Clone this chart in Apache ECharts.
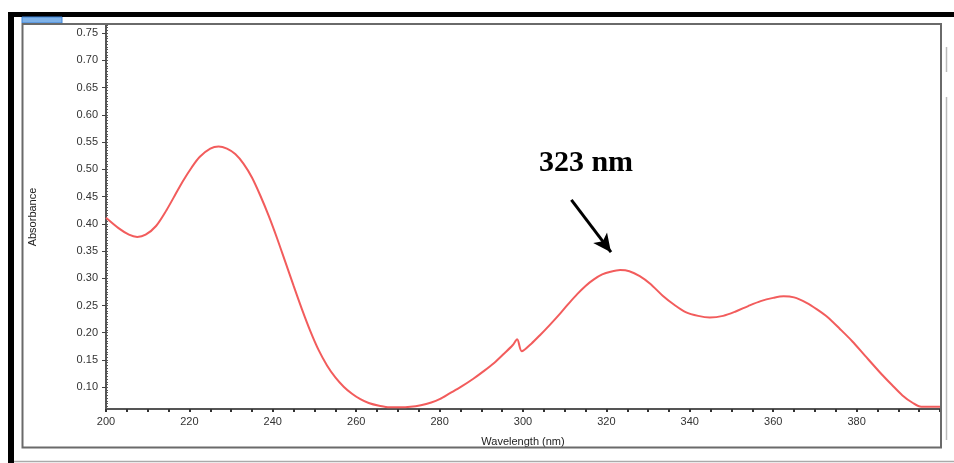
<!DOCTYPE html>
<html>
<head>
<meta charset="utf-8">
<script src="https://cdn.jsdelivr.net/npm/echarts@6/dist/echarts.min.js"></script>
<style>
html,body{margin:0;padding:0;background:#fff;}
#chart{width:954px;height:463px;}
</style>
</head>
<body>
<div id="chart"></div>
<script>
// ---- data ----
const wavelength = [200,203,205.5,207.5,209.5,212,214.5,216.5,218.5,220.5,222.5,225,227,229,231,233,235,237,239,241,243,245,247,249,251,253,255,257,259,261,263,265.5,268,270.5,273,275.5,278,280,282.5,285,288,290.5,293,295.5,297.5,298.6,299.7,302,304,306.5,309,311,313,315,317,319,321,323.3,325.5,328,330.5,333.5,336.5,339,342,344.8,348,351,354,357,360,362.5,365,368,370.5,373,376,379,382,385.5,388.5,391,393.5,395.5,400];
const absorbance = [0.411,0.392,0.380,0.376,0.380,0.396,0.425,0.452,0.479,0.503,0.523,0.538,0.542,0.538,0.528,0.510,0.485,0.452,0.415,0.374,0.330,0.286,0.243,0.203,0.168,0.140,0.118,0.101,0.088,0.078,0.071,0.066,0.063,0.063,0.064,0.067,0.072,0.078,0.089,0.100,0.115,0.129,0.144,0.162,0.177,0.188,0.166,0.180,0.195,0.215,0.236,0.254,0.271,0.286,0.298,0.307,0.312,0.315,0.313,0.304,0.290,0.268,0.250,0.238,0.231,0.228,0.231,0.239,0.249,0.258,0.264,0.267,0.265,0.255,0.243,0.229,0.207,0.184,0.158,0.128,0.104,0.085,0.071,0.064,0.064];
const yTickLabels = [0.10,0.15,0.20,0.25,0.30,0.35,0.40,0.45,0.50,0.55,0.60,0.65,0.70,0.75];
const xTickLabels = [200,220,240,260,280,300,320,340,360,380];
const arrowStart = [311.6, 0.444];
const arrowEnd = [321.1, 0.348];
const peakLabelPos = [315.1, 0.512];
const peakLabel = '323 nm';
const yMin = 0.06, yMax = 0.765, xMin = 200, xMax = 400;

const minorY = [];
for (let k = 13; k <= 153; k++) { minorY.push(+(k * 0.005).toFixed(3)); }

const chart = echarts.init(document.getElementById('chart'), null, {renderer:'canvas'});
const labelFont = {fontFamily:'Liberation Sans, Arial, sans-serif', fontSize:11, color:'#333'};
chart.setOption({
  animation:false,
  backgroundColor:'#fff',
  grid:{left:106, right:14, top:25, bottom:54, containLabel:false},
  xAxis:{
    type:'value', min:xMin, max:xMax, interval:20,
    name:'Wavelength (nm)', nameLocation:'middle', nameGap:27,
    nameTextStyle:Object.assign({}, labelFont, {fontSize:11, color:'#222'}),
    axisLine:{show:true, lineStyle:{color:'#555', width:2}},
    axisTick:{show:true, length:3, lineStyle:{color:'#333', width:2}},
    minorTick:{show:true, splitNumber:4, length:3, lineStyle:{color:'#333', width:2}},
    splitLine:{show:false},
    axisLabel:Object.assign({}, labelFont, {margin:7, customValues:xTickLabels, formatter:v=>String(v)})
  },
  yAxis:[{
    type:'value', min:yMin, max:yMax,
    name:'Absorbance', nameLocation:'middle', nameGap:68, nameRotate:90,
    nameTextStyle:Object.assign({}, labelFont, {fontSize:11, color:'#222'}),
    axisLine:{show:true, lineStyle:{color:'#555', width:2}},
    axisTick:{show:true, length:4, customValues:yTickLabels, lineStyle:{color:'#444', width:1}},
    splitLine:{show:false},
    axisLabel:Object.assign({}, labelFont, {margin:8, customValues:yTickLabels, formatter:v=>v.toFixed(2)})
  },{
    type:'value', min:yMin, max:yMax, position:'left',
    axisLine:{show:false},
    axisTick:{show:true, inside:true, length:2, customValues:minorY, lineStyle:{color:'#555', width:1}},
    axisLabel:{show:false}, splitLine:{show:false}
  }],
  graphic:[
    {type:'rect', shape:{x:8,y:12,width:946,height:5}, style:{fill:'#000'}, z:100},
    {type:'rect', shape:{x:8,y:12,width:6,height:451}, style:{fill:'#000'}, z:100},
    {type:'rect', shape:{x:22,y:17,width:40,height:6}, style:{fill:'#7fb2e8', stroke:'#3f83d6', lineWidth:1}, z:100},
    {type:'rect', shape:{x:22.5,y:24,width:918.5,height:423.5}, style:{fill:null, stroke:'#6a6a6a', lineWidth:2}, z:100},
    {type:'line', shape:{x1:14,y1:461.5,x2:954,y2:461.5}, style:{stroke:'#aaa', lineWidth:1.5}, z:100},
    {type:'line', shape:{x1:946.5,y1:47,x2:946.5,y2:72}, style:{stroke:'#bbb', lineWidth:1.5}, z:100},
    {type:'line', shape:{x1:946.5,y1:97,x2:946.5,y2:440}, style:{stroke:'#bbb', lineWidth:1.5}, z:100}
  ],
  series:[{
    type:'line',
    data:wavelength.map((w,i)=>[w, absorbance[i]]),
    showSymbol:false, smooth:0.3,
    lineStyle:{color:'#f25c5c', width:2},
    markLine:{
      silent:true, symbol:['none','arrow'], symbolSize:[13,18],
      lineStyle:{color:'#000', width:3, type:'solid'},
      label:{show:false},
      data:[[{coord:arrowStart},{coord:arrowEnd}]]
    },
    markPoint:{
      silent:true, symbol:'circle', symbolSize:1, itemStyle:{color:'rgba(0,0,0,0)'},
      label:{show:true, position:'inside', formatter:peakLabel, fontFamily:'Liberation Serif, Times New Roman, serif', fontWeight:'bold', fontSize:30, color:'#000'},
      data:[{coord:peakLabelPos}]
    }
  }]
});
</script>
</body>
</html>
